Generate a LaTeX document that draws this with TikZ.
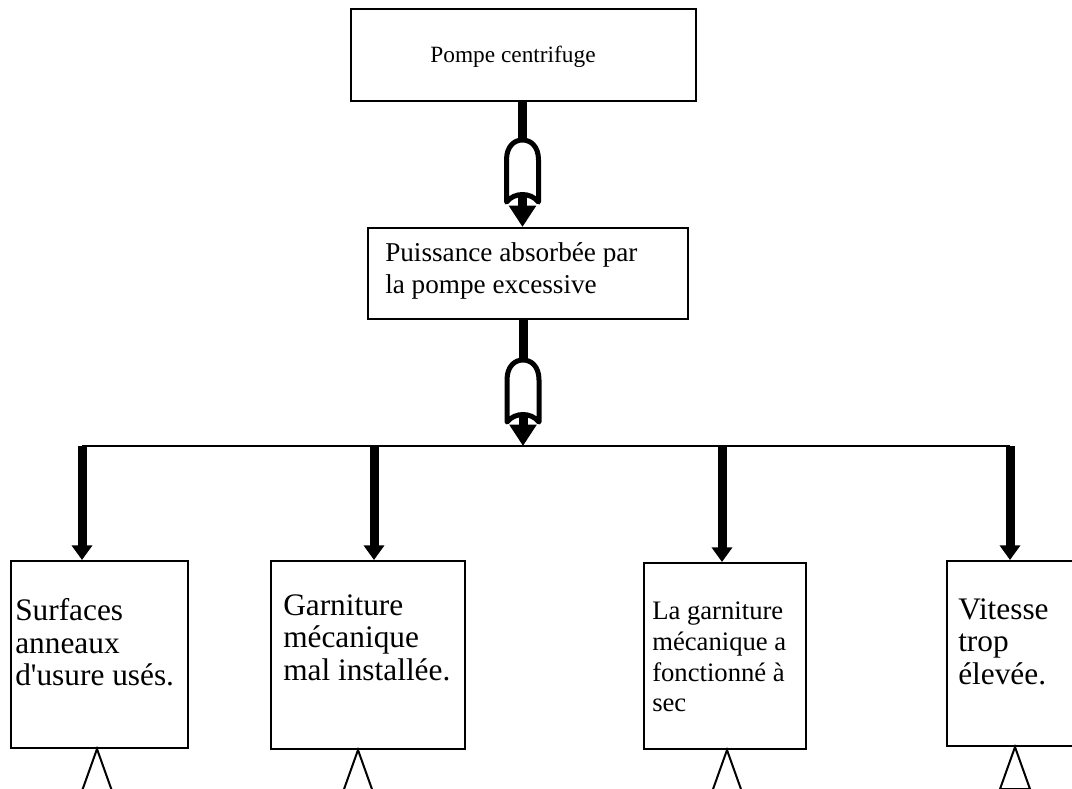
\documentclass[tikz,border=0pt]{standalone}
\usepackage{fontspec}
\setmainfont{Liberation Serif}[Ligatures=TeXOff]
\usetikzlibrary{arrows.meta}
\newcommand\pxu{0.75pt}
\begin{document}
\begin{tikzpicture}[x=0.75pt,y=-0.75pt,
  box/.style={draw, line width=1.5pt, rectangle, inner sep=0pt, anchor=north west},
  txt/.style={inner sep=0pt, anchor=north west, align=left,
              font=\fontsize{23.5}{24.6}\selectfont},
  stem/.style={line width=6.75pt},
  feed/.style={line width=6.75pt, -{Triangle[width=15pt,length=11pt]}},
  gatefeed/.style={line width=6.75pt, -{Triangle[width=19.5pt,length=16pt]}},
  bus/.style={line width=1.5pt},
  gatepen/.style={line width=3.75pt, fill=white, line join=round},
  transfer/.style={line width=1.5pt, line join=miter},
  orgate/.pic={
    \draw[gatepen] (-16,62) -- (-16,20)
      .. controls (-16,6) and (-8,0) .. (0,0)
      .. controls (8,0) and (16,6) .. (16,20) -- (16,62)
      .. controls (8,52) and (-8,52) .. cycle;
    \coordinate (-in) at (0,2);
    \coordinate (-out) at (0,54);
  }]

\clip (0,0) rectangle (1072,789);
\fill[white] (0,0) rectangle (1072,789);

% top event
\node[box, minimum width=345*\pxu, minimum height=92*\pxu] (top) at (350,8) {};
\node[inner sep=0pt, font=\fontsize{17.5}{20}\selectfont] (toptxt) at (513,57) {Pompe centrifuge};

% intermediate event
\node[box, minimum width=320*\pxu, minimum height=91*\pxu] (cause) at (367,227) {};
\node[txt, font=\fontsize{20.4}{24}\selectfont] (causetxt) at (385,242)
  {Puissance absorbée par\\la pompe excessive};

% basic causes
\node[box, minimum width=177*\pxu, minimum height=187*\pxu] (b1) at (10,560) {};
\node[box, minimum width=194*\pxu, minimum height=188*\pxu] (b2) at (270,560) {};
\node[box, minimum width=162*\pxu, minimum height=186*\pxu] (b3) at (643,562) {};
\node[box, minimum width=140*\pxu, minimum height=185*\pxu] (b4) at (946,560) {};

\node[txt] (t1) at (15,598) {Surfaces\\anneaux\\d'usure usés.};
\node[txt] (t2) at (283,594) {Garniture\\mécanique\\mal installée.};
\node[txt, font=\fontsize{20}{23}\selectfont] (t3) at (652,602)
  {La garniture\\mécanique a\\fonctionné à\\sec};
\node[txt] (t4) at (958,598) {Vitesse\\trop\\élevée.};

% first OR gate
\coordinate (g1pos) at (522.5,140);
\draw[stem] (g1pos |- top.south) -- ([yshift=-10*\pxu]g1pos);
\pic (g1) at (g1pos) {orgate};
\draw[gatefeed] (g1-out) -- (g1-out |- cause.north);

% second OR gate
\coordinate (g2pos) at (523,360);
\draw[stem] (g2pos |- cause.south) -- ([yshift=-10*\pxu]g2pos);
\pic (g2) at (g2pos) {orgate};
\coordinate (j1) at (82,446);
\coordinate (j2) at (374,446);
\coordinate (j3) at (722,446);
\coordinate (j4) at (1010,446);
\draw[gatefeed] (g2-out) -- (g2-out |- j1);

% distribution bar and branches
\draw[bus] (j1) -- (j4);
\draw[feed] (j1) -- (j1 |- b1.north);
\draw[feed] (j2) -- (j2 |- b2.north);
\draw[feed] (j3) -- (j3 |- b3.north);
\draw[feed] (j4) -- (j4 |- b4.north);

% transfer triangles
\draw[transfer] (97,0 |- b1.south) -- ++(-15,42) -- ++(30,0) -- cycle;
\draw[transfer] (358,0 |- b2.south) -- ++(-15,42) -- ++(30,0) -- cycle;
\draw[transfer] (727,0 |- b3.south) -- ++(-15,42) -- ++(30,0) -- cycle;
\draw[transfer] (1015,0 |- b4.south) -- ++(-15,42) -- ++(30,0) -- cycle;
\end{tikzpicture}
\end{document}
